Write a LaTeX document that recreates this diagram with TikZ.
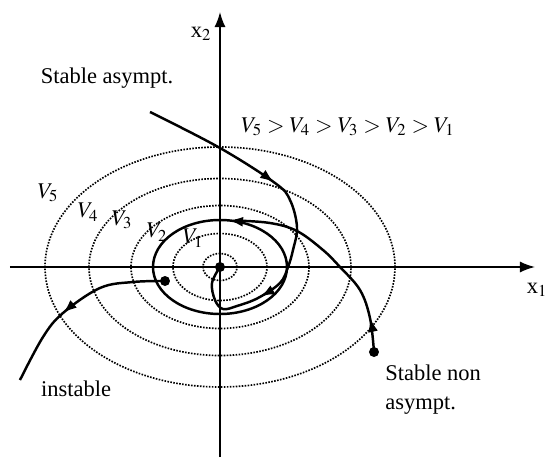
\documentclass[tikz,border=0pt]{standalone}
\usepackage{mathptmx}
\usepackage{fontspec}
\setmainfont{Liberation Serif}
\usetikzlibrary{arrows.meta,decorations.markings}

\begin{document}
\begin{tikzpicture}[x=1cm,y=1cm]
\tikzset{
  axis/.style={line width=0.9pt,-{Latex[length=3mm,width=2.2mm]}},
  level/.style={line width=0.95pt,dash pattern=on 0.9pt off 0.8pt},
  traj/.style={line width=1.4pt},
  flow/.style={postaction={decorate,decoration={markings,mark=at position #1 with {\arrow{Latex[length=2.8mm,width=2mm]}}}}},
  state/.style={circle,fill,inner sep=0pt,minimum size=2mm},
  lbl/.style={font=\fontsize{12.8}{16.5}\selectfont,inner sep=0pt}
}
\useasboundingbox (-4.4,-3.8) rectangle (6.5,5.34);
% level sets of V
\coordinate (o) at (0,0);
\foreach \rx/\ry in {0.34/0.27,0.94/0.67,1.78/1.23,2.62/1.77,3.5/2.4}
  \draw[level] (o) ellipse [x radius=\rx,y radius=\ry];
% axes
\coordinate (ax_w) at (-4.2,0);
\coordinate (ax_e) at (6.3,0);
\coordinate (ax_s) at (0,-3.8);
\coordinate (ax_n) at (0,5.1);
\draw[axis] (ax_w) -- (ax_e);
\draw[axis] (ax_s) -- (ax_n);
\node[lbl] (n_x1) at (6.34,-0.46) {x$_1$};
\node[lbl] (n_x2) at (-0.38,4.66) {x$_2$};
% states
\node[state] (n_c) at (o) {};
\node[state] (n_sn) at (3.08,-1.7) {};
\node[state] (n_in) at (-1.1,-0.28) {};
\coordinate (n_sa) at (-1.4,3.1);
% trajectories
\draw[traj,flow=0.39,flow=0.76] plot[smooth,tension=0.6] coordinates {(n_sa) (0,2.38) (1.1,1.68) (1.4,1.34) (1.54,0.8) (1.46,0.34) (1.36,0) (1.2,-0.32) (0.76,-0.62) (0.34,-0.78) (0.06,-0.84) (-0.1,-0.66) (-0.16,-0.32) (n_c.center)};
\draw[traj,flow=0.225] (n_c.center) ellipse [x radius=1.34,y radius=0.94];
\draw[traj,flow=0.16] plot[smooth,tension=0.6] coordinates {(n_sn.center) (3.0,-1.02) (2.8,-0.46) (2.4,0) (2.06,0.34) (1.54,0.72) (1.0,0.88) (0.3,0.93)};
\draw[traj,flow=0.58] plot[smooth,tension=0.6] coordinates {(n_in.center) (-1.74,-0.3) (-2.4,-0.42) (-3.14,-0.92) (-3.54,-1.4) (-4.0,-2.26)};
% labels
\foreach \i/\p in {5/{(-3.44,1.48)},4/{(-2.64,1.1)},3/{(-1.96,0.94)},2/{(-1.26,0.7)},1/{(-0.54,0.58)}}
  \node[lbl] (n_v\i) at \p {$V_\i$};
\node[lbl] (n_ineq) at (2.56,2.8) {\thickmuskip=4mu $V_5>V_4>V_3>V_2>V_1$};
\node[lbl] (n_tsa) at (-2.26,3.78) {Stable asympt.};
\node[lbl] (n_tin) at (-2.88,-2.44) {instable};
\node[lbl,anchor=west,align=left] (n_tsn) at (3.3,-2.46) {Stable non\\asympt.};
\end{tikzpicture}
\end{document}
